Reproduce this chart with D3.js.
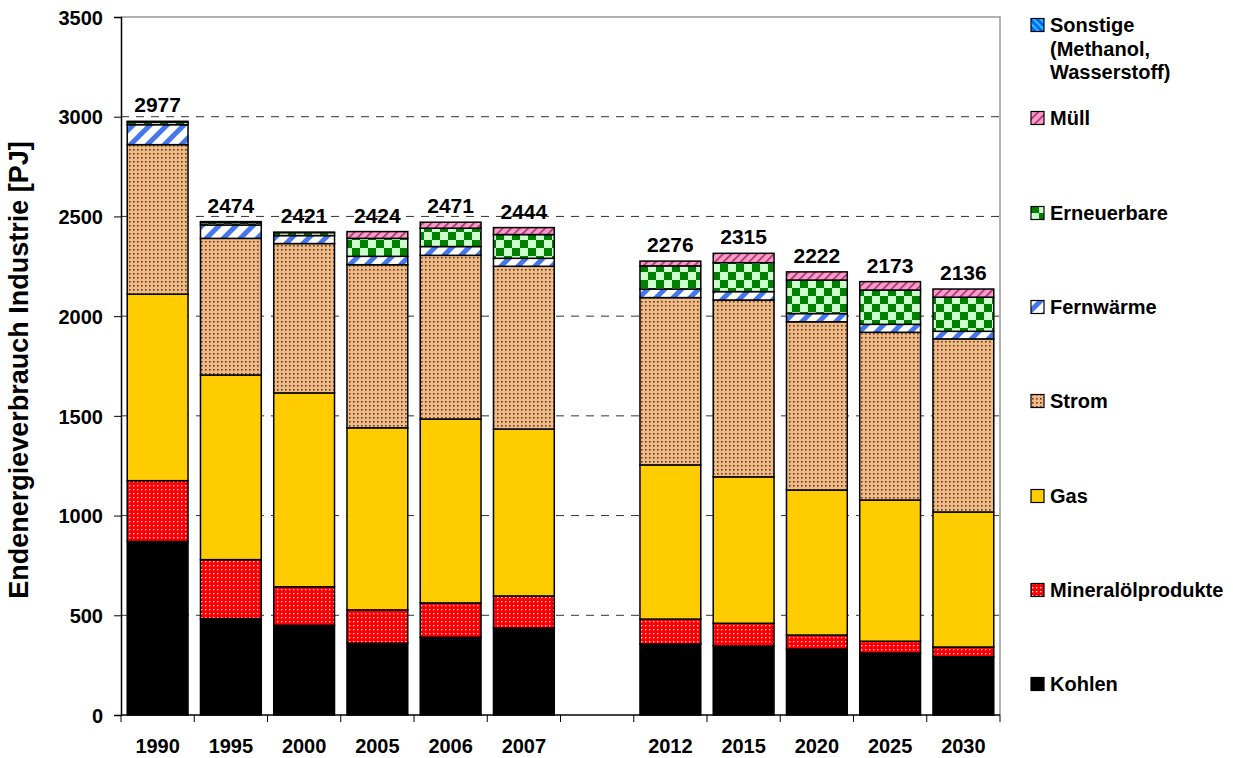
<!DOCTYPE html>
<html><head><meta charset="utf-8">
<script src="https://cdn.jsdelivr.net/npm/d3@7"></script>
<style>body{margin:0;background:#fff;} text{font-family:"Liberation Sans",Arial,sans-serif;font-weight:bold;}</style>
</head><body>
<svg id="c" width="1233" height="758"></svg>
<script>
const categories = ["1990","1995","2000","2005","2006","2007","","2012","2015","2020","2025","2030"];
const seriesNames = ["Kohlen","Mineralölprodukte","Gas","Strom","Fernwärme","Erneuerbare","Müll","Sonstige"];
const kohlen      = [870,483,450,360,390,436,null,356,346,331,311,292];
const mineraloel  = [305,296,193,167,172,161,null,125,114,70,59,49];
const gas         = [935,926,972,913,922,837,null,773,734,727,708,677];
const strom       = [750,685,749,818,821,816,null,839,887,844,841,868];
const fernwaerme  = [100,67,40,42,44,40,null,43,42,41,40,38];
const erneuerbare = [12,12,15,90,92,119,null,116,145,168,172,171];
const muell       = [5,5,2,34,30,35,null,24,47,41,42,41];
const sonstige    = [0,0,0,0,0,0,null,0,0,0,0,0];
const totals      = [2977,2474,2421,2424,2471,2444,null,2276,2315,2222,2173,2136];
const yTicks = [0,500,1000,1500,2000,2500,3000,3500];
const legendLabels = [["Sonstige","(Methanol,","Wasserstoff)"],["Müll"],["Erneuerbare"],["Fernwärme"],["Strom"],["Gas"],["Mineralölprodukte"],["Kohlen"]];

const seriesData = [kohlen,mineraloel,gas,strom,fernwaerme,erneuerbare,muell,sonstige];
const fills = ["#000000","url(#pMin)","#FFCC00","url(#pStrom)","url(#pFern)","url(#pErn)","url(#pMuell)","url(#pSonst)"];

const svg = d3.select("#c");
const defs = svg.append("defs");
let p = defs.append("pattern").attr("id","pMin").attr("patternUnits","userSpaceOnUse").attr("width",4).attr("height",4);
p.append("rect").attr("width",4).attr("height",4).attr("fill","#FF0000");
p.append("rect").attr("x",1).attr("y",1).attr("width",1.3).attr("height",1.3).attr("fill","#FFFFFF");
p = defs.append("pattern").attr("id","pStrom").attr("patternUnits","userSpaceOnUse").attr("width",4).attr("height",4);
p.append("rect").attr("width",4).attr("height",4).attr("fill","#F0B985");
p.append("rect").attr("x",1).attr("y",1).attr("width",1.6).attr("height",1.6).attr("fill","#5E3E22");
p = defs.append("pattern").attr("id","pFern").attr("patternUnits","userSpaceOnUse").attr("width",12).attr("height",12).attr("patternTransform","rotate(45)");
p.append("rect").attr("width",12).attr("height",12).attr("fill","#FFFFFF");
p.append("rect").attr("width",5).attr("height",12).attr("fill","#4477EE");
p = defs.append("pattern").attr("id","pErn").attr("patternUnits","userSpaceOnUse").attr("width",16).attr("height",16);
p.append("rect").attr("width",16).attr("height",16).attr("fill","#CCFFCC");
p.append("rect").attr("x",8).attr("width",8).attr("height",8).attr("fill","#008000");
p.append("rect").attr("y",8).attr("width",8).attr("height",8).attr("fill","#008000");
p = defs.append("pattern").attr("id","pMuell").attr("patternUnits","userSpaceOnUse").attr("width",6).attr("height",6).attr("patternTransform","rotate(45)");
p.append("rect").attr("width",6).attr("height",6).attr("fill","#FF99CC");
p.append("rect").attr("width",1.6).attr("height",6).attr("fill","#993366");
p = defs.append("pattern").attr("id","pSonst").attr("patternUnits","userSpaceOnUse").attr("width",5).attr("height",5).attr("patternTransform","rotate(-45)");
p.append("rect").attr("width",5).attr("height",5).attr("fill","#0066FF");
p.append("rect").attr("width",1.8).attr("height",5).attr("fill","#33CCFF");

const L=121, R=1000, T=17, B=715;
const x = d3.scaleBand().domain(categories.map((c,i)=>i)).range([L,R]).paddingInner(0.17).paddingOuter(0.085);
const y = d3.scaleLinear().domain([0,3500]).range([B,T]);

svg.append("path").attr("d",`M${L},${T}H${R}V${B}`).attr("fill","none").attr("stroke","#999").attr("stroke-width",1.5);
svg.append("g").selectAll("line").data(yTicks.filter(v=>v>0&&v<3500)).join("line")
  .attr("x1",L).attr("x2",R).attr("y1",d=>y(d)).attr("y2",d=>y(d))
  .attr("stroke","#333").attr("stroke-width",1).attr("stroke-dasharray","8,7");

const stackRows = categories.map((c,i)=>{const o={i}; seriesNames.forEach((s,k)=>o[s]=seriesData[k][i]||0); return o;});
const stack = d3.stack().keys(seriesNames)(stackRows);
stack.forEach((layer,k)=>{
  svg.append("g").selectAll("rect").data(layer.filter(d=>categories[d.data.i]!=="" && d[1]-d[0]>0)).join("rect")
    .attr("x",d=>x(d.data.i)).attr("width",x.bandwidth())
    .attr("y",d=>y(d[1])).attr("height",d=>y(d[0])-y(d[1]))
    .attr("fill",fills[k]).attr("stroke","#000").attr("stroke-width",1.5);
});

svg.append("g").selectAll("text").data(categories.map((c,i)=>i).filter(i=>totals[i]!=null)).join("text")
  .attr("x",i=>x(i)+x.bandwidth()/2).attr("y",i=>y(totals[i])-9)
  .attr("text-anchor","middle").attr("font-size",21).text(i=>totals[i]);

const ya = svg.append("g").attr("transform",`translate(${L},0)`)
  .call(d3.axisLeft(y).tickValues(yTicks).tickSize(7).tickPadding(11).tickFormat(d3.format("d")));
ya.select(".domain").attr("stroke","#000").attr("stroke-width",1.5);
ya.selectAll(".tick line").attr("stroke","#000");
ya.selectAll("text").attr("font-size",20).attr("font-family","Liberation Sans, Arial").attr("font-weight","bold").attr("fill","#000").attr("dy","0.36em");

const xa = svg.append("g").attr("transform",`translate(0,${B})`);
xa.append("line").attr("x1",L).attr("x2",R).attr("stroke","#000").attr("stroke-width",1.5);
xa.selectAll("line.t").data(d3.range(categories.length+1)).join("line").attr("class","t")
  .attr("x1",i=>L+i*(R-L)/categories.length).attr("x2",i=>L+i*(R-L)/categories.length)
  .attr("y1",0).attr("y2",7).attr("stroke","#000");
xa.selectAll("text").data(categories.map((c,i)=>i).filter(i=>categories[i]!=="")).join("text")
  .attr("x",i=>x(i)+x.bandwidth()/2).attr("y",38).attr("text-anchor","middle").attr("font-size",20).text(i=>categories[i]);

svg.append("text").attr("transform","translate(28,370) rotate(-90)").attr("text-anchor","middle")
  .attr("font-size",27).text("Endenergieverbrauch Industrie [PJ]");

const legY = [25,118,213,307,401,496,590,684];
const legFill = [fills[7],fills[6],fills[5],fills[4],fills[3],fills[2],fills[1],fills[0]];
const lg = svg.append("g").selectAll("g").data(legendLabels).join("g").attr("transform",(d,i)=>`translate(1031,${legY[i]})`);
lg.append("rect").attr("x",0).attr("y",-6.5).attr("width",13).attr("height",13).attr("fill",(d,i)=>legFill[i]).attr("stroke","#000").attr("stroke-width",1.2);
lg.append("text").attr("x",19).attr("y",7).attr("font-size",20)
  .selectAll("tspan").data(d=>d).join("tspan").attr("x",19).attr("dy",(d,j)=>j===0?0:23.5).text(d=>d);
</script>
</body></html>
